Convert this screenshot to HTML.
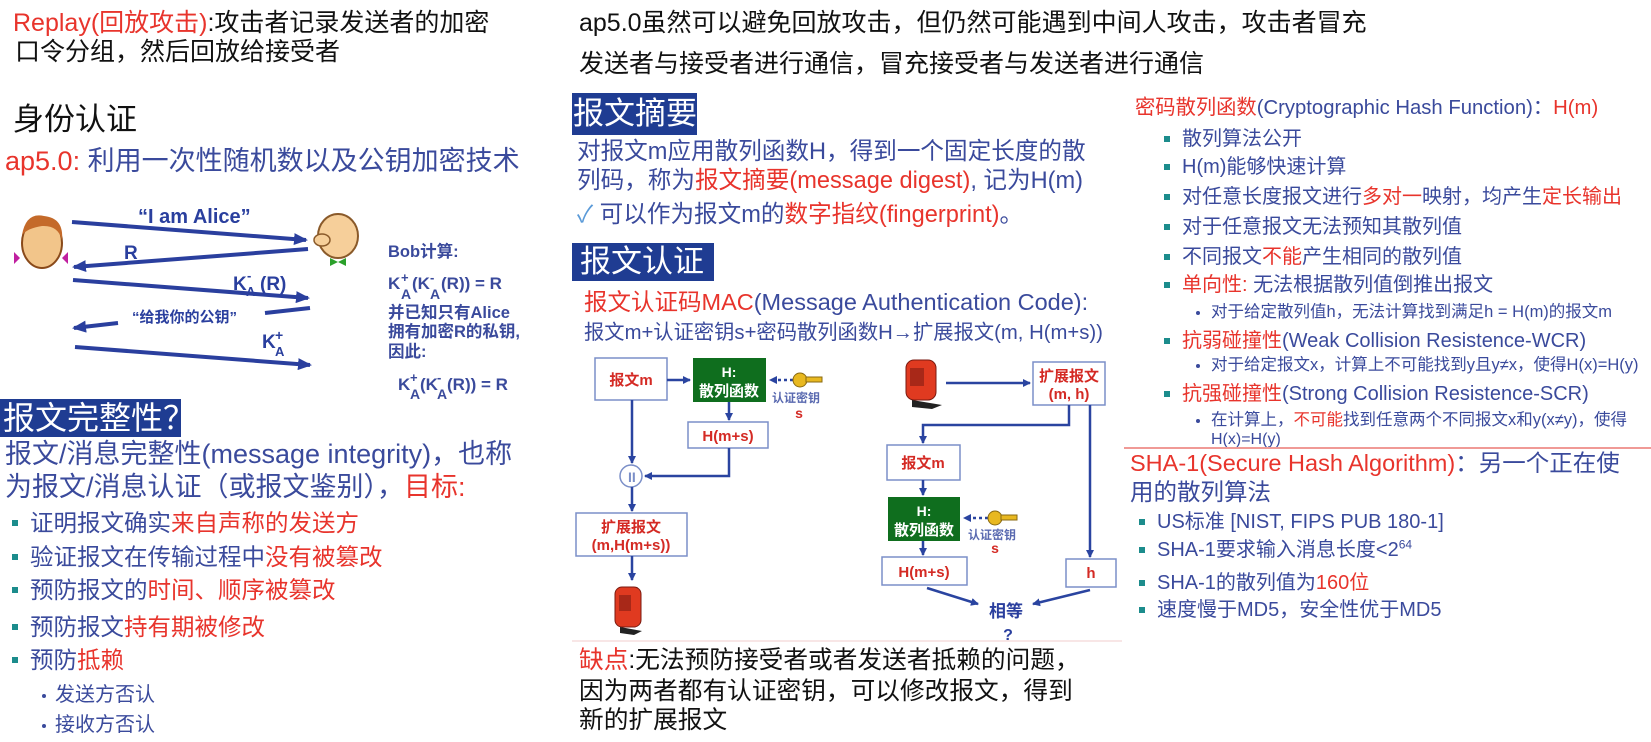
<!DOCTYPE html>
<html><head><meta charset="utf-8">
<style>
html,body{margin:0;padding:0;background:#fff;}
body{width:1651px;height:742px;position:relative;overflow:hidden;font-family:"Liberation Sans","Noto Sans CJK SC",sans-serif;}
.t{position:absolute;white-space:nowrap;color:#3a4a9c;}
.k{color:#111;}
.r{color:#e8342c;}
.bx{position:absolute;background:#1f3c92;color:#fff;white-space:nowrap;}
.sq{position:absolute;width:6px;height:6px;background:#1c8c8c;}
.dot{position:absolute;width:4px;height:4px;border-radius:2px;background:#3a4a9c;}
svg{position:absolute;left:0;top:0;}
</style></head><body>

<!-- left column -->
<div class="t k" style="left:13px;top:11px;font-size:25px;line-height:25px;"><span class="r">Replay(回放攻击)</span>:攻击者记录发送者的加密</div>
<div class="t k" style="left:15px;top:40px;font-size:25px;line-height:25px;">口令分组，然后回放给接受者</div>
<div class="t k" style="left:13px;top:104px;font-size:31px;line-height:31px;">身份认证</div>
<div class="t" style="left:5px;top:148px;font-size:27px;line-height:27px;"><span class="r">ap5.0:</span> 利用一次性随机数以及公钥加密技术</div>

<div class="bx" style="left:0;top:399px;width:181px;height:38px;font-size:32px;line-height:38px;padding-left:3px;box-sizing:border-box;">报文完整性？</div>
<div class="t" style="left:5px;top:441px;font-size:27px;line-height:27px;">报文/消息完整性(message integrity)，也称</div>
<div class="t" style="left:5px;top:474px;font-size:27px;line-height:27px;">为报文/消息认证（或报文鉴别），<span class="r">目标:</span></div>
<div class="sq" style="left:12px;top:520px"></div><div class="t" style="left:30px;top:511px;font-size:23.5px;line-height:24px;">证明报文确实<span class="r">来自声称的发送方</span></div>
<div class="sq" style="left:12px;top:554px"></div><div class="t" style="left:30px;top:545px;font-size:23.5px;line-height:24px;">验证报文在传输过程中<span class="r">没有被篡改</span></div>
<div class="sq" style="left:12px;top:587px"></div><div class="t" style="left:30px;top:578px;font-size:23.5px;line-height:24px;">预防报文的<span class="r">时间、顺序被篡改</span></div>
<div class="sq" style="left:12px;top:624px"></div><div class="t" style="left:30px;top:615px;font-size:23.5px;line-height:24px;">预防报文<span class="r">持有期被修改</span></div>
<div class="sq" style="left:12px;top:657px"></div><div class="t" style="left:30px;top:648px;font-size:23.5px;line-height:24px;">预防<span class="r">抵赖</span></div>
<div class="dot" style="left:42px;top:694px"></div><div class="t" style="left:55px;top:685px;font-size:20px;line-height:20px;">发送方否认</div>
<div class="dot" style="left:42px;top:724px"></div><div class="t" style="left:55px;top:715px;font-size:20px;line-height:20px;">接收方否认</div>

<!-- middle column -->
<div class="t k" style="left:579px;top:11px;font-size:25px;line-height:25px;">ap5.0虽然可以避免回放攻击，但仍然可能遇到中间人攻击，攻击者冒充</div>
<div class="t k" style="left:579px;top:52px;font-size:25px;line-height:25px;">发送者与接受者进行通信，冒充接受者与发送者进行通信</div>
<div class="bx" style="left:572px;top:93px;width:125px;height:42px;font-size:31px;line-height:42px;padding-left:1px;box-sizing:border-box;">报文摘要</div>
<div class="t" style="left:577px;top:140px;font-size:23.6px;line-height:24px;">对报文m应用散列函数H，得到一个固定长度的散</div>
<div class="t" style="left:577px;top:169px;font-size:23.6px;line-height:24px;">列码，称为<span class="r">报文摘要(message digest)</span>, 记为H(m)</div>
<div class="t" style="left:577px;top:203px;font-size:23.6px;line-height:24px;"><span style="color:#5a9ad8">✓</span> 可以作为报文m的<span class="r">数字指纹(fingerprint)</span>。</div>
<div class="bx" style="left:572px;top:243px;width:142px;height:38px;font-size:31px;line-height:38px;padding-left:8px;box-sizing:border-box;">报文认证</div>
<div class="t" style="left:584px;top:290px;font-size:23.5px;line-height:24px;"><span class="r">报文认证码MAC</span>(Message Authentication Code):</div>
<div class="t" style="left:584px;top:323px;font-size:20.3px;line-height:20px;">报文m+认证密钥s+密码散列函数H→扩展报文(m, H(m+s))</div>
<div class="t k" style="left:579px;top:648px;font-size:24.7px;line-height:25px;"><span class="r">缺点</span>:无法预防接受者或者发送者抵赖的问题，</div>
<div class="t k" style="left:579px;top:679px;font-size:24.7px;line-height:25px;">因为两者都有认证密钥，可以修改报文，得到</div>
<div class="t k" style="left:579px;top:708px;font-size:24.7px;line-height:25px;">新的扩展报文</div>

<!-- right column -->
<div class="t" style="left:1135px;top:98px;font-size:20.3px;line-height:20px;"><span class="r">密码散列函数</span>(Cryptographic Hash Function)：<span class="r">H(m)</span></div>
<div class="sq" style="left:1164px;top:136px"></div><div class="t" style="left:1182px;top:129px;font-size:20px;line-height:20px;">散列算法公开</div>
<div class="sq" style="left:1164px;top:164px"></div><div class="t" style="left:1182px;top:157px;font-size:20px;line-height:20px;">H(m)能够快速计算</div>
<div class="sq" style="left:1164px;top:194px"></div><div class="t" style="left:1182px;top:187px;font-size:20px;line-height:20px;">对任意长度报文进行<span class="r">多对一</span>映射，均产生<span class="r">定长输出</span></div>
<div class="sq" style="left:1164px;top:224px"></div><div class="t" style="left:1182px;top:217px;font-size:20px;line-height:20px;">对于任意报文无法预知其散列值</div>
<div class="sq" style="left:1164px;top:254px"></div><div class="t" style="left:1182px;top:247px;font-size:20px;line-height:20px;">不同报文<span class="r">不能</span>产生相同的散列值</div>
<div class="sq" style="left:1164px;top:282px"></div><div class="t" style="left:1182px;top:275px;font-size:20px;line-height:20px;"><span class="r">单向性:</span> 无法根据散列值倒推出报文</div>
<div class="dot" style="left:1196px;top:311px"></div><div class="t" style="left:1211px;top:304px;font-size:16.5px;line-height:17px;">对于给定散列值h，无法计算找到满足h = H(m)的报文m</div>
<div class="sq" style="left:1164px;top:338px"></div><div class="t" style="left:1182px;top:331px;font-size:20px;line-height:20px;"><span class="r">抗弱碰撞性</span>(Weak Collision Resistence-WCR)</div>
<div class="dot" style="left:1196px;top:364px"></div><div class="t" style="left:1211px;top:357px;font-size:16.5px;line-height:17px;">对于给定报文x，计算上不可能找到y且y≠x，使得H(x)=H(y)</div>
<div class="sq" style="left:1164px;top:391px"></div><div class="t" style="left:1182px;top:384px;font-size:20px;line-height:20px;"><span class="r">抗强碰撞性</span>(Strong Collision Resistence-SCR)</div>
<div class="dot" style="left:1196px;top:419px"></div><div class="t" style="left:1211px;top:412px;font-size:16.5px;line-height:17px;">在计算上，<span class="r">不可能</span>找到任意两个不同报文x和y(x≠y)，使得</div>
<div class="t" style="left:1211px;top:432px;font-size:16px;line-height:16px;">H(x)=H(y)</div>
<div style="position:absolute;left:1124px;top:447px;width:527px;height:2px;background:#f09a96;"></div>
<div class="t" style="left:1130px;top:451px;font-size:23.5px;line-height:24px;"><span class="r">SHA-1(Secure Hash Algorithm)</span>：另一个正在使</div>
<div class="t" style="left:1130px;top:480px;font-size:23.5px;line-height:24px;">用的散列算法</div>
<div class="sq" style="left:1139px;top:519px"></div><div class="t" style="left:1157px;top:512px;font-size:20px;line-height:20px;">US标准 [NIST, FIPS PUB 180-1]</div>
<div class="sq" style="left:1139px;top:547px"></div><div class="t" style="left:1157px;top:540px;font-size:20px;line-height:20px;">SHA-1要求输入消息长度&lt;2<sup style="font-size:12px;line-height:0">64</sup></div>
<div class="sq" style="left:1139px;top:580px"></div><div class="t" style="left:1157px;top:573px;font-size:20px;line-height:20px;">SHA-1的散列值为<span class="r">160位</span></div>
<div class="sq" style="left:1139px;top:607px"></div><div class="t" style="left:1157px;top:600px;font-size:20px;line-height:20px;">速度慢于MD5，安全性优于MD5</div>

<svg width="1651" height="742" viewBox="0 0 1651 742" font-family="Liberation Sans, Noto Sans CJK SC, sans-serif">
<defs>
<marker id="a" markerWidth="8" markerHeight="8" refX="7" refY="4" orient="auto" markerUnits="userSpaceOnUse"><path d="M0,0 L8,4 L0,8 z" fill="#2a44a0"/></marker>
<marker id="b" markerWidth="14" markerHeight="12" refX="12" refY="6" orient="auto" markerUnits="userSpaceOnUse"><path d="M0,0 L14,6 L0,12 z" fill="#2a3f9e"/></marker>
</defs>
<!-- Alice/Bob -->
<g stroke="#2a3f9e" stroke-width="4" fill="none">
<line x1="72" y1="222" x2="306" y2="240" marker-end="url(#b)"/>
<line x1="308" y1="249" x2="74" y2="267" marker-end="url(#b)"/>
<line x1="73" y1="280" x2="308" y2="298" marker-end="url(#b)"/>
<line x1="265" y1="313" x2="310" y2="308"/>
<line x1="118" y1="323" x2="74" y2="328" marker-end="url(#b)"/>
<line x1="75" y1="347" x2="310" y2="365" marker-end="url(#b)"/>
</g>
<g fill="#2a3f9e" font-weight="bold">
<text x="138" y="223" font-size="20">“I am Alice”</text>
<text x="124" y="259" font-size="19">R</text>
<text x="233" y="290" font-size="19">K</text><text x="246" y="296" font-size="13">A</text><text x="247" y="280" font-size="13">-</text><text x="260" y="290" font-size="19">(R)</text>
<text x="132" y="322" font-size="15">“给我你的公钥”</text>
<text x="262" y="348" font-size="19">K</text><text x="275" y="356" font-size="13">A</text><text x="275" y="340" font-size="14">+</text>
</g>
<!-- heads -->
<ellipse cx="42" cy="243" rx="20" ry="25" fill="#f2c58a" stroke="#8a4a1a" stroke-width="2"/>
<path d="M22,235 Q26,212 44,216 Q64,218 62,240 Q58,225 42,226 Q28,228 22,235z" fill="#c46a2a"/>
<path d="M20,258 l-6,-6 l0,12z M62,258 l6,-6 l0,12z" fill="#c020a0"/>
<ellipse cx="338" cy="236" rx="20" ry="22" fill="#f6cf9a" stroke="#8a5a2a" stroke-width="2"/>
<ellipse cx="322" cy="240" rx="8" ry="6" fill="#f6cf9a" stroke="#8a5a2a" stroke-width="1.5"/>
<path d="M330,258 l8,4 l8,-4 l0,8 l-8,-4 l-8,4z" fill="#2aa02a"/>
<g fill="#3a4a9c" font-weight="bold" font-size="16.5">
<text x="388" y="257">Bob计算:</text>
<text x="388" y="289" font-size="17">K</text><text x="401" y="282" font-size="13">+</text><text x="401" y="299" font-size="14">A</text><text x="412" y="289" font-size="17">(K</text><text x="430" y="282" font-size="13">-</text><text x="430" y="299" font-size="14">A</text><text x="441" y="289" font-size="17">(R)) = R</text>
<text x="388" y="318">并已知只有Alice</text>
<text x="388" y="337">拥有加密R的私钥,</text>
<text x="388" y="357">因此:</text>
<text x="398" y="390" font-size="17">K</text><text x="410" y="382" font-size="13">+</text><text x="410" y="399" font-size="14">A</text><text x="420" y="390" font-size="17">(K</text><text x="437" y="382" font-size="13">-</text><text x="437" y="399" font-size="14">A</text><text x="447" y="390" font-size="17">(R)) = R</text>
</g>

<!-- MAC diagram -->
<g fill="#fff" stroke="#7b8fc8" stroke-width="1.5">
<rect x="595" y="358" width="72" height="42"/>
<rect x="688" y="422" width="80" height="26"/>
<rect x="576" y="513" width="111" height="43"/>
<rect x="1033" y="362" width="72" height="43"/>
<rect x="887" y="445" width="73" height="35"/>
<rect x="882" y="557" width="85" height="28"/>
<rect x="1066" y="559" width="50" height="28"/>
<circle cx="631" cy="476" r="11"/>
</g>
<rect x="693" y="358" width="73" height="44" fill="#0f6e1e"/>
<rect x="888" y="497" width="72" height="44" fill="#0f6e1e"/>
<g stroke="#2a44a0" stroke-width="2.5" fill="none">
<line x1="667" y1="380" x2="690" y2="380" marker-end="url(#a)"/>
<line x1="729" y1="402" x2="729" y2="420" marker-end="url(#a)"/>
<line x1="632" y1="400" x2="632" y2="463" marker-end="url(#a)"/>
<polyline points="729,448 729,476 645,476" marker-end="url(#a)"/>
<line x1="632" y1="487" x2="632" y2="511" marker-end="url(#a)"/>
<line x1="632" y1="556" x2="632" y2="580" marker-end="url(#a)"/>
<line x1="793" y1="380" x2="770" y2="380" stroke-dasharray="3,3" marker-end="url(#a)"/>
<line x1="946" y1="383" x2="1030" y2="383" marker-end="url(#a)"/>
<polyline points="1069,405 1069,425 923,425 923,443" marker-end="url(#a)"/>
<line x1="1090" y1="405" x2="1090" y2="557" marker-end="url(#a)"/>
<line x1="923" y1="480" x2="923" y2="495" marker-end="url(#a)"/>
<line x1="923" y1="541" x2="923" y2="555" marker-end="url(#a)"/>
<line x1="988" y1="518" x2="964" y2="518" stroke-dasharray="3,3" marker-end="url(#a)"/>
<line x1="927" y1="588" x2="978" y2="604" marker-end="url(#a)"/>
<line x1="1090" y1="590" x2="1033" y2="604" marker-end="url(#a)"/>
</g>
<text x="628" y="482" font-size="14" fill="#7b8fc8" font-weight="bold">II</text>
<g font-weight="bold" text-anchor="middle" font-size="15" fill="#d42a24">
<text x="631" y="385">报文m</text>
<text x="728" y="441">H(m+s)</text>
<text x="631" y="532">扩展报文</text>
<text x="631" y="550">(m,H(m+s))</text>
<text x="1069" y="381">扩展报文</text>
<text x="1069" y="399">(m, h)</text>
<text x="923" y="468">报文m</text>
<text x="924" y="577">H(m+s)</text>
<text x="1091" y="578">h</text>
<text x="799" y="418" font-size="14">s</text>
<text x="995" y="553" font-size="14">s</text>
</g>
<g font-weight="bold" text-anchor="middle" fill="#fff">
<text x="729" y="377" font-size="14">H:</text>
<text x="729" y="396" font-size="15">散列函数</text>
<text x="924" y="516" font-size="14">H:</text>
<text x="924" y="535" font-size="15">散列函数</text>
</g>
<g font-size="12" fill="#5a6ab0" text-anchor="middle" font-weight="bold">
<text x="796" y="402">认证密钥</text>
<text x="992" y="539">认证密钥</text>
</g>
<g font-weight="bold" fill="#2a3f9e" text-anchor="middle">
<text x="1006" y="617" font-size="17">相等</text>
<text x="1008" y="640" font-size="16">?</text>
</g>
<g fill="#e8b820" stroke="#8a6a10" stroke-width="1">
<circle cx="800" cy="380" r="7"/><rect x="806" y="377" width="16" height="5"/>
<circle cx="995" cy="518" r="7"/><rect x="1001" y="515" width="16" height="5"/>
</g>
<g>
<rect x="906" y="360" width="30" height="40" rx="8" fill="#e03a20" stroke="#7a1a10"/>
<rect x="910" y="368" width="14" height="18" fill="#a82818"/>
<path d="M912,400 l30,5 l-10,4 l-20,-2z" fill="#222"/>
<rect x="615" y="587" width="26" height="40" rx="7" fill="#e03a20" stroke="#7a1a10"/>
<rect x="619" y="595" width="12" height="16" fill="#a82818"/>
<path d="M620,627 l22,4 l-8,4 l-14,-2z" fill="#222"/>
</g>
<line x1="572" y1="641" x2="1122" y2="641" stroke="#f6dede" stroke-width="1.5"/>
</svg>
</body></html>
